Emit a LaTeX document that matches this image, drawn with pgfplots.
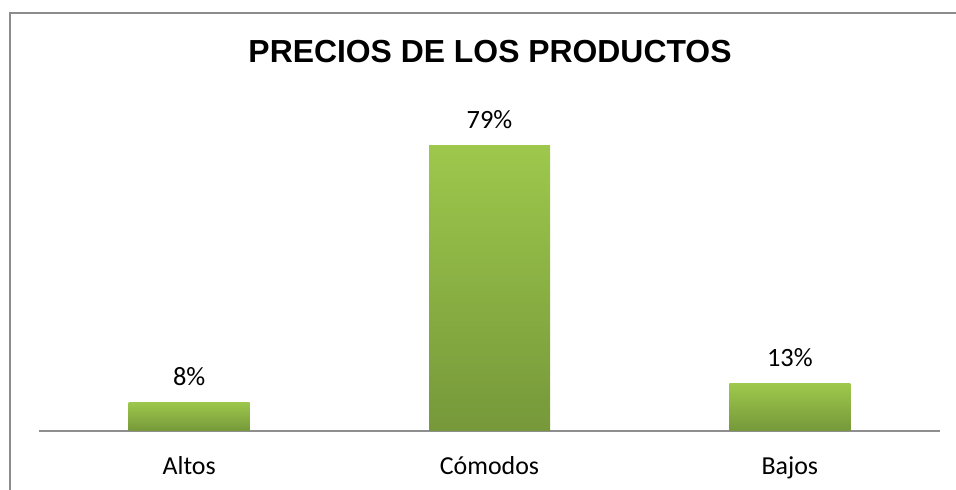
\documentclass[border=0pt]{standalone}
\usepackage{fontspec}
\setmainfont{Carlito}
\newfontfamily\titlefont{Liberation Sans}
\usepackage{pgfplots}
\pgfplotsset{compat=1.18}
\definecolor{bartop}{HTML}{9DC84C}
\definecolor{barbot}{HTML}{76983A}
\definecolor{framegray}{HTML}{8C8C8C}
\definecolor{axgray}{HTML}{8E8E8E}
\begin{document}
\begin{tikzpicture}[x=1bp,y=1bp]
\useasboundingbox (0,0) rectangle (956,490);
\draw[framegray, line width=2bp] (9.5,-2) -- (9.5,477) -- (958,477);
\node[font=\titlefont\bfseries\fontsize{32}{38}\selectfont, anchor=base] at (490,427) {PRECIOS DE LOS PRODUCTOS};
\begin{axis}[
  at={(39bp,59bp)}, anchor=south west,
  scale only axis, width=901bp, height=362bp,
  xmin=-0.5, xmax=2.5, ymin=0, ymax=100,
  axis y line=none,
  axis x line*=bottom,
  x axis line style={axgray, line width=1.6bp, -},
  xtick={0,1,2},
  xticklabels={Altos, Cómodos, Bajos},
  major tick length=0pt,
  xticklabel style={font=\fontsize{26}{30}\selectfont, anchor=base, yshift=-44bp},
  ybar, bar width=121bp, bar shift=0pt,
  point meta=explicit symbolic,
  nodes near coords,
  every node near coord/.append style={font=\fontsize{26.5}{30}\selectfont, anchor=base, yshift=17bp},
  clip=false,
]
\addplot[draw=none, top color=bartop, bottom color=barbot] coordinates {(0,8) [8\%]};
\addplot[draw=none, top color=bartop, bottom color=barbot] coordinates {(1,79) [79\%]};
\addplot[draw=none, top color=bartop, bottom color=barbot] coordinates {(2,13) [13\%]};
\end{axis}
\end{tikzpicture}
\end{document}
